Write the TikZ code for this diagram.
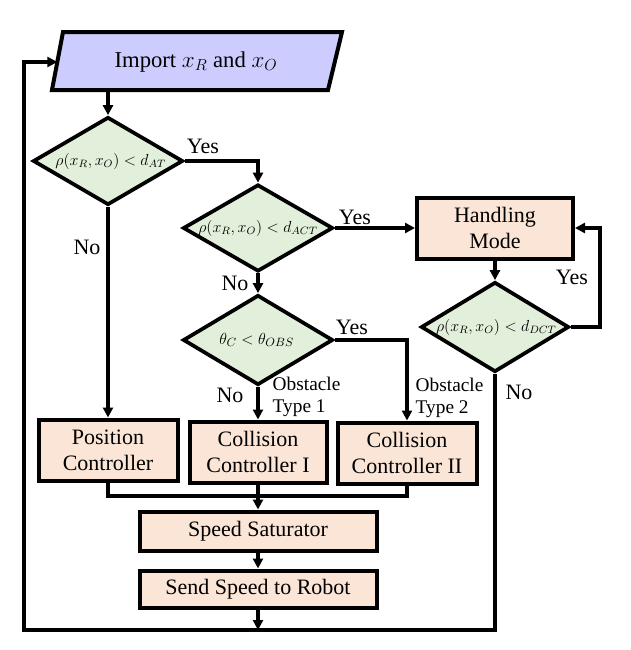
\documentclass[tikz,border=0pt]{standalone}
\usepackage{fontspec}
\setmainfont{Liberation Serif}
\usetikzlibrary{shapes.geometric,arrows.meta,calc}
\definecolor{lav}{RGB}{204,204,255}
\definecolor{grn}{RGB}{226,239,218}
\definecolor{pch}{RGB}{251,229,214}
\begin{document}
\begin{tikzpicture}[x=0.75pt,y=-0.75pt,
  line width=2.6pt,
  arr/.style={-{Triangle[length=7.5pt,width=7.5pt]}},
  dia/.style={diamond,draw,fill=grn,inner sep=0pt,line width=2.8pt},
  box/.style={rectangle,draw,fill=pch,line width=3pt,align=center,inner sep=0pt,font=\fontsize{16.5pt}{19.5pt}\selectfont},
  lbl/.style={font=\fontsize{16.5pt}{19pt}\selectfont,inner sep=0pt},
  obs/.style={font=\fontsize{14.5pt}{17pt}\selectfont,inner sep=0pt,align=left,anchor=west},
  dtxt/.style={font=\fontsize{12pt}{15pt}\selectfont,inner sep=0pt}]
\useasboundingbox (0,0) rectangle (631,650);
% parallelogram
\coordinate (p1) at (63,32);
\coordinate (p2) at (342,32);
\coordinate (p3) at (328,90);
\coordinate (p4) at (52,90);
\draw[fill=lav,line width=3pt] (p1) -- (p2) -- (p3) -- (p4) -- cycle;
\node[lbl,font=\fontsize{17pt}{19pt}\selectfont] (imp) at (196,62) {Import $x_R$ and $x_O$};
\coordinate (pin) at (57.3,62);
\coordinate (pout) at (108,90);
% diamonds
\node[dia,minimum width=112.5pt,minimum height=66pt] (d1) at (108,161) {};
\node[dtxt] at ([xshift=2pt]d1) {$\rho(x_R,x_O)<d_{AT}$};
\node[dia,minimum width=112.5pt,minimum height=65.25pt] (d2) at (258,228) {};
\node[dtxt] at (d2) {$\rho(x_R,x_O)<d_{ACT}$};
\node[dia,minimum width=112.5pt,minimum height=67.5pt] (d3) at (258,340) {};
\node[dtxt,font=\fontsize{12.5pt}{15pt}\selectfont] at ([xshift=-1pt]d3) {$\theta_C<\theta_{OBS}$};
\node[dia,minimum width=111pt,minimum height=67.5pt] (d4) at (495,327) {};
\node[dtxt] at ([xshift=1pt]d4) {$\rho(x_R,x_O)<d_{DCT}$};
% boxes
\node[box,minimum width=117pt,minimum height=45.75pt] (hm) at (495,228) {Handling\\Mode};
\node[box,minimum width=104.25pt,minimum height=45.75pt] (pc) at (108,450) {Position\\Controller};
\node[box,minimum width=102.75pt,minimum height=45.75pt] (cc1) at (258,452) {Collision\\Controller I};
\node[box,minimum width=104.25pt,minimum height=45.75pt] (cc2) at (407,453) {Collision\\Controller II};
\node[box,minimum width=177.75pt,minimum height=29.25pt] (ss) at (258,531) {Speed Saturator};
\node[box,minimum width=177.75pt,minimum height=27.75pt] (send) at (258,589) {Send Speed to Robot};
% coordinates
\coordinate (bl) at (24,630);
\coordinate (br) at (495,630);
\coordinate (bm) at (258,630);
\coordinate (mg) at (258,496);
% connectors
\draw[arr] (pout) -- (d1.north);
\draw[arr] (d1.south) -- (pc.north);
\draw[arr] (d1.east) -| (d2.north);
\draw[arr] (d2.east) -- (hm.west);
\draw[arr] (d2.south) -- (d3.north);
\draw[arr] (hm.south) -- (d4.north);
\draw[arr] (d4.east) -- ++(29,0) |- (hm.east);
\draw[arr] (d3.east) -| (cc2.north);
\draw[arr] (d3.south) -- (cc1.north);
\draw (pc.south) |- (mg) -| (cc2.south);
\draw[arr] (cc1.south) -- (ss.north);
\draw[arr] (ss.south) -- (send.north);
\draw[arr] (send.south) -- (bm);
\draw[arr] (d4.south) -- (br) -- (bl) |- (pin);
% labels
\node[lbl] at (203,146) {Yes};
\node[lbl] at (87,247) {No};
\node[lbl] at (355,217) {Yes};
\node[lbl] at (235,283) {No};
\node[lbl] at (352,327) {Yes};
\node[lbl] at (230,395) {No};
\node[lbl] at (572,277) {Yes};
\node[lbl] at (519,392) {No};
\node[obs] at (271,397) {Obstacle\\Type 1};
\node[obs] at (414,398) {Obstacle\\Type 2};
\end{tikzpicture}
\end{document}
